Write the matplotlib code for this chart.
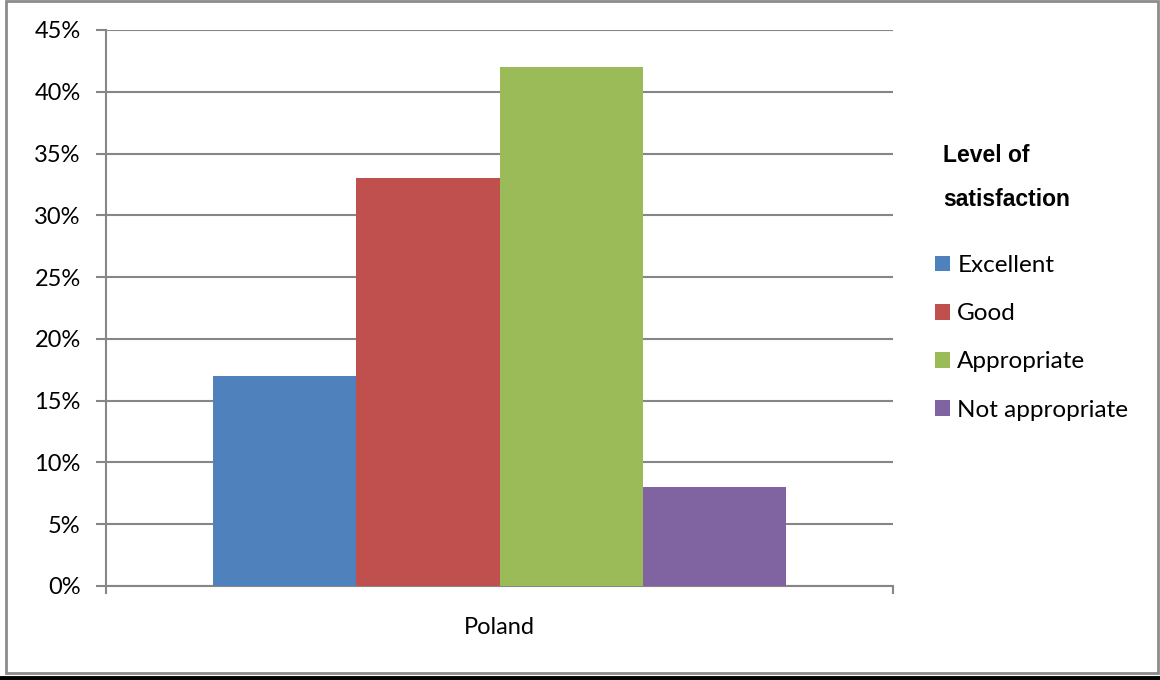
import matplotlib
matplotlib.use('Agg')
import matplotlib.pyplot as plt
from matplotlib.patches import Rectangle
from matplotlib.lines import Line2D

# Data
category = 'Poland'
levels = ['Excellent', 'Good', 'Appropriate', 'Not appropriate']
shares = [17, 33, 42, 8]   # percent
colors = ['#4F81BD', '#C0504D', '#9BBB59', '#8064A2']
y_ticks = [0, 5, 10, 15, 20, 25, 30, 35, 40, 45]

plt.rcParams['font.family'] = ['Lato', 'DejaVu Sans']
plt.rcParams['font.size'] = 17

W, H = 1160, 680
fig = plt.figure(figsize=(W / 100, H / 100), dpi=100)
fig.patch.set_facecolor('white')

# plot area in pixel coords -> figure fractions
left, right, top, bottom = 106, 893, 30, 586
ax = fig.add_axes([left / W, (H - bottom) / H, (right - left) / W, (bottom - top) / H])

grid_col = '#868686'
bar_w = 0.182
n = len(levels)
for i, (lvl, val, col) in enumerate(zip(levels, shares, colors)):
    x = (i - (n - 1) / 2) * bar_w
    ax.bar(x, val, width=bar_w, color=col, label=lvl, zorder=3)

ax.set_xlim(-0.5, 0.5)
ax.set_ylim(0, 45)
ax.set_yticks(y_ticks)
ax.set_yticklabels([f'{t}%' for t in y_ticks])
ax.yaxis.grid(True, color=grid_col, linewidth=1.5, zorder=0)
ax.set_axisbelow(True)

for s in ['top', 'right']:
    ax.spines[s].set_visible(False)
for s in ['left', 'bottom']:
    ax.spines[s].set_color(grid_col)
    ax.spines[s].set_linewidth(1.5)

ax.tick_params(axis='y', length=7.2, width=1.5, color=grid_col, pad=11, labelsize=17)
ax.set_xticks([0])
ax.set_xticklabels([category])
ax.tick_params(axis='x', which='major', length=0, pad=22, labelsize=17)
ax.set_xticks([-0.5, 0.5], minor=True)
ax.tick_params(axis='x', which='minor', length=6, width=1.5, color=grid_col)

# legend title (two lines) and entries
fig.text(943 / W, 1 - 144 / H, 'Level of\nsatisfaction', fontsize=16.5, fontweight='bold',
         va='top', ha='left', linespacing=2.15, family=['Liberation Sans Narrow', 'Liberation Sans', 'DejaVu Sans'])
leg = fig.legend(loc='upper left', bbox_to_anchor=(935 / W, 1 - 255 / H), frameon=False,
                 fontsize=17.5, handlelength=0.62, handleheight=0.62, handletextpad=0.3,
                 labelspacing=1.12, borderpad=0, borderaxespad=0)

# outer chart frame and bottom black rule
fig.add_artist(Rectangle((6 / W, 1 - 673 / H), (1158 - 6) / W, (673 - 1) / H,
                         transform=fig.transFigure, fill=False, edgecolor='#8c8c8c', linewidth=2))
fig.add_artist(Line2D([0, 1], [1 - 678 / H, 1 - 678 / H], transform=fig.transFigure,
                      color='black', linewidth=3.5))

fig.savefig('out.png', dpi=100)
